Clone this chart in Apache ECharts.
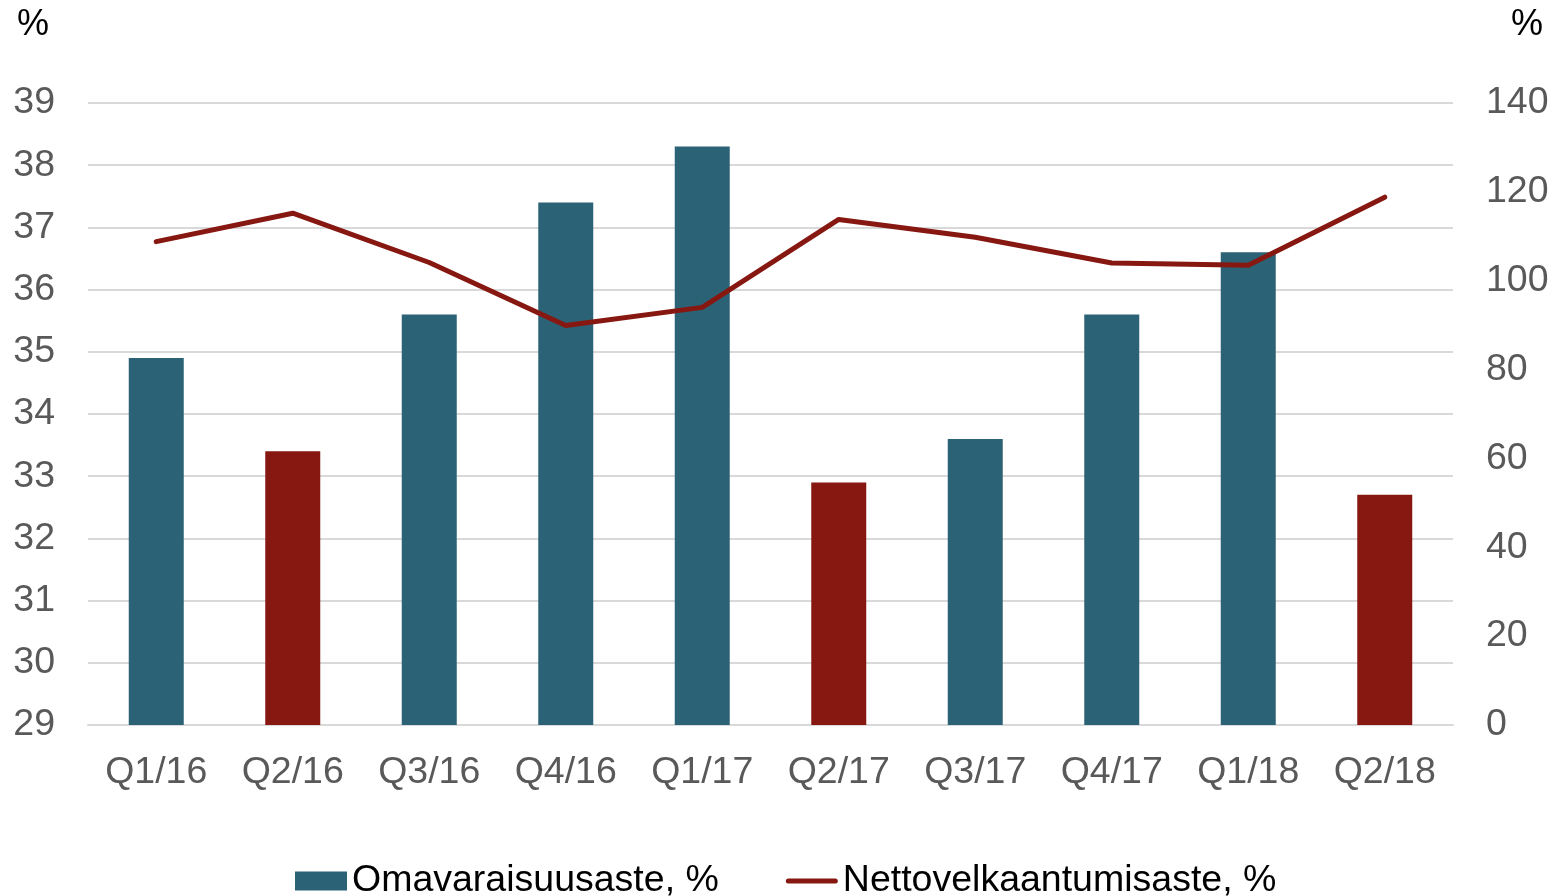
<!DOCTYPE html>
<html>
<head>
<meta charset="utf-8">
<script src="https://cdn.jsdelivr.net/npm/echarts@6/dist/echarts.min.js"></script>
<style>
  html, body { margin: 0; padding: 0; background: #fff; }
  #chart { width: 1552px; height: 896px; }
</style>
</head>
<body>
<div id="chart"></div>
<script>
const categories = ['Q1/16', 'Q2/16', 'Q3/16', 'Q4/16', 'Q1/17', 'Q2/17', 'Q3/17', 'Q4/17', 'Q1/18', 'Q2/18']
const omavaraisuusaste = [34.9, 33.4, 35.6, 37.4, 38.3, 32.9, 33.6, 35.6, 36.6, 32.7]
const nettovelkaantumisaste = [108.8, 115.2, 104.1, 89.9, 94.0, 113.8, 109.8, 104.0, 103.5, 118.8]
const leftTicks = { min: 29, max: 39, interval: 1 }
const rightTicks = { min: 0, max: 140, interval: 20 }

const TEAL = '#2c6276'
const RED = '#861811'
const GREY = '#595959'
const FONT = 'Liberation Sans, Arial, sans-serif'
const FS = 37.5

const chart = echarts.init(document.getElementById('chart'), null, { renderer: 'canvas' })

// Q2-neljännekset punaisella
const barData = omavaraisuusaste.map((v, i) => ({
  value: v,
  itemStyle: { color: categories[i].startsWith('Q2') ? RED : TEAL }
}))

// legendan viivasymboli: paksu viiva pyöristetyin päin
const lineIcon = 'path://M2.5,0 L49.5,0 A2.5,2.5 0 0 1 49.5,5 L2.5,5 A2.5,2.5 0 0 1 2.5,0 Z'

const axisLabel = { color: GREY, fontSize: FS, fontFamily: FONT, margin: 33 }
const splitLine = { lineStyle: { color: '#d9d9d9', width: 2 } }

const option = {
  backgroundColor: '#fff',
  animation: false,
  textStyle: { fontFamily: FONT },
  grid: { left: 88, right: 99, top: 103, bottom: 171, containLabel: false },
  graphic: [
    { type: 'text', left: 17, top: 7, style: { text: '%', fontSize: 36, fontFamily: FONT, fill: '#000' } },
    { type: 'text', left: 1511, top: 7, style: { text: '%', fontSize: 36, fontFamily: FONT, fill: '#000' } }
  ],
  legend: {
    left: 295,
    top: 862,
    padding: 0,
    itemWidth: 52,
    itemHeight: 19,
    itemGap: 67,
    textStyle: { color: '#000', fontSize: FS, fontFamily: FONT },
    data: [
      { name: 'Omavaraisuusaste, %', icon: 'rect' },
      { name: 'Nettovelkaantumisaste, %', icon: lineIcon, itemStyle: { color: RED } }
    ]
  },
  xAxis: {
    type: 'category',
    data: categories,
    axisLine: { show: true, lineStyle: { color: '#d9d9d9', width: 2 } },
    axisTick: { show: false },
    axisLabel: { color: GREY, fontSize: FS, fontFamily: FONT, margin: 29 }
  },
  yAxis: [
    {
      type: 'value',
      min: leftTicks.min,
      max: leftTicks.max,
      interval: leftTicks.interval,
      axisLine: { show: false },
      axisTick: { show: false },
      axisLabel: axisLabel,
      splitLine: splitLine
    },
    {
      type: 'value',
      position: 'right',
      min: rightTicks.min,
      max: rightTicks.max,
      interval: rightTicks.interval,
      axisLine: { show: false },
      axisTick: { show: false },
      axisLabel: axisLabel,
      splitLine: { show: false }
    }
  ],
  series: [
    {
      name: 'Omavaraisuusaste, %',
      type: 'bar',
      yAxisIndex: 0,
      barWidth: 55,
      itemStyle: { color: TEAL },
      data: barData
    },
    {
      name: 'Nettovelkaantumisaste, %',
      type: 'line',
      yAxisIndex: 1,
      symbol: 'none',
      itemStyle: { color: RED },
      lineStyle: { color: RED, width: 5, cap: 'round', join: 'round' },
      data: nettovelkaantumisaste
    }
  ]
}

chart.setOption(option)
</script>
</body>
</html>
